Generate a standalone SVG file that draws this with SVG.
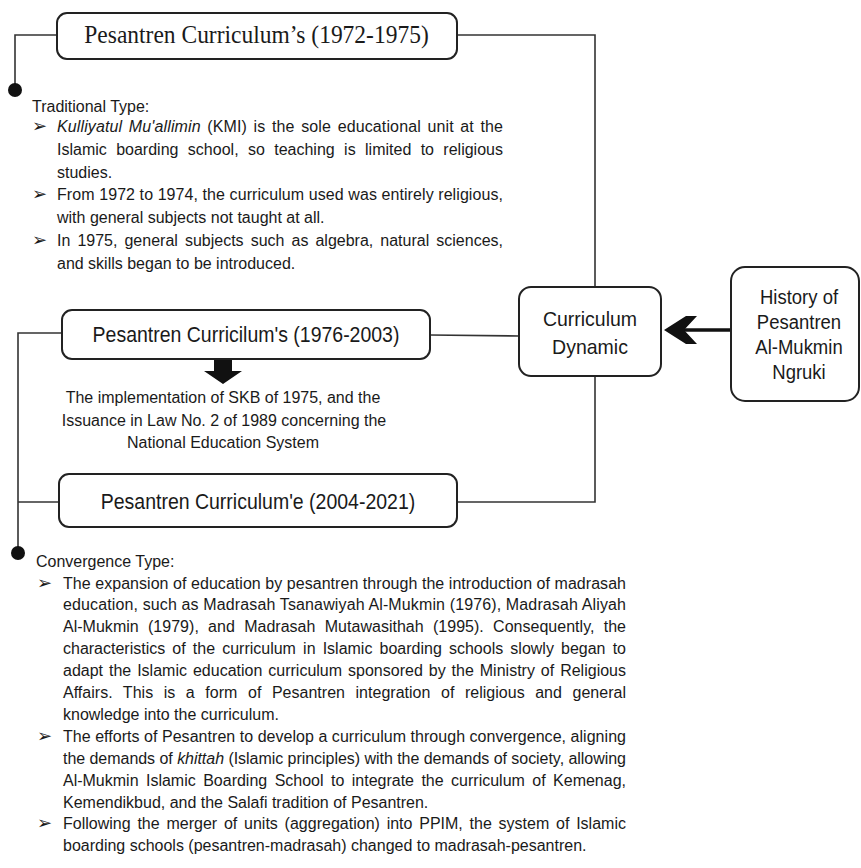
<svg xmlns="http://www.w3.org/2000/svg" width="861" height="868" viewBox="0 0 861 868">
<style>
  .box { fill: #ffffff; stroke: #222; stroke-width: 2; }
  .ln { fill: none; stroke: #333; stroke-width: 1.6; }
  .serif { font-family: "Liberation Serif", "Times New Roman", serif; fill: #1a1a1a; }
  .sans { font-family: "Liberation Sans", Arial, sans-serif; fill: #1a1a1a; }
  .body { font-family: "Liberation Sans", Arial, sans-serif; font-size: 16px; fill: #1a1a1a; }
  .bul { font-family: "DejaVu Sans", sans-serif; font-size: 18px; fill: #1a1a1a; }
  .it { font-style: italic; }
  .c { text-anchor: middle; }
</style>
<rect width="861" height="868" fill="#ffffff"/>

<g id="connectors">
  <polyline class="ln" points="57,35 15,35 15,90"/>
  <circle cx="15" cy="90" r="7" fill="#111"/>
  <polyline class="ln" points="457,35 595,35 595,287"/>
  <line class="ln" x1="430" y1="335" x2="519" y2="336"/>
  <polyline class="ln" points="595,376 595,502 457,502"/>
  <polyline class="ln" points="62,333 18,333 18,553"/>
  <line class="ln" x1="18" y1="502" x2="59" y2="502"/>
  <circle cx="18" cy="553" r="7" fill="#111"/>
  <line x1="684" y1="330" x2="731" y2="330" stroke="#111" stroke-width="3.5"/>
  <polygon points="664,330 686,316 697,316 684,330 697,344 686,344" fill="#111"/>
  <polygon points="214,360 232,360 232,371 242,371 223,384 204,371 214,371" fill="#111"/>
</g>

<g id="box-1972">
  <rect class="box" x="57" y="13" width="400" height="46" rx="10"/>
  <text class="serif c" transform="translate(256.5 43) scale(1 1.07)" font-size="23.5">Pesantren Curriculum’s (1972-1975)</text>
</g>

<g id="traditional">
  <text class="body" transform="translate(32 112) scale(1 1.08)">Traditional Type:</text>
  <text class="bul" x="32" y="132">➢</text>
  <text class="body" transform="translate(57 132) scale(1 1.08)" word-spacing="2" textLength="446"><tspan class="it">Kulliyatul Mu'allimin</tspan> (KMI) is the sole educational unit at the</text>
  <text class="body" transform="translate(57 155) scale(1 1.08)" word-spacing="4.9" textLength="446">Islamic boarding school, so teaching is limited to religious</text>
  <text class="body" transform="translate(57 177.5) scale(1 1.08)">studies.</text>
  <text class="bul" x="32" y="200">➢</text>
  <text class="body" transform="translate(57 200) scale(1 1.08)" textLength="446">From 1972 to 1974, the curriculum used was entirely religious,</text>
  <text class="body" transform="translate(57 223) scale(1 1.08)">with general subjects not taught at all.</text>
  <text class="bul" x="32" y="246">➢</text>
  <text class="body" transform="translate(57 246) scale(1 1.08)" word-spacing="2.6" textLength="446">In 1975, general subjects such as algebra, natural sciences,</text>
  <text class="body" transform="translate(57 268.5) scale(1 1.08)">and skills began to be introduced.</text>
</g>

<g id="box-1976">
  <rect class="box" x="62" y="310" width="368" height="49" rx="10"/>
  <text class="sans c" transform="translate(246 342) scale(1 1.09)" font-size="19.5">Pesantren Curricilum's (1976-2003)</text>
</g>

<g id="skb-note">
  <text class="body c" transform="translate(223 403) scale(1 1.08)">The implementation of SKB of 1975, and the</text>
  <text class="body c" transform="translate(224 425.5) scale(1 1.08)">Issuance in Law No. 2 of 1989 concerning the</text>
  <text class="body c" transform="translate(223 448) scale(1 1.08)">National Education System</text>
</g>

<g id="box-2004">
  <rect class="box" x="59" y="474" width="398" height="53" rx="10"/>
  <text class="sans c" transform="translate(258 509) scale(1 1.09)" font-size="19.5">Pesantren Curriculum'e (2004-2021)</text>
</g>

<g id="curriculum-dynamic">
  <rect class="box" x="519" y="287" width="142" height="89" rx="12"/>
  <text class="sans c" transform="translate(590 326) scale(1 1.08)" font-size="19.5">Curriculum</text>
  <text class="sans c" transform="translate(590 354) scale(1 1.08)" font-size="19.5">Dynamic</text>
</g>

<g id="history">
  <rect class="box" x="731" y="267" width="128" height="134" rx="14"/>
  <text class="sans c" transform="translate(799 304) scale(1 1.08)" font-size="18.5">History of</text>
  <text class="sans c" transform="translate(799 329) scale(1 1.08)" font-size="18.5">Pesantren</text>
  <text class="sans c" transform="translate(799 354) scale(1 1.08)" font-size="18.5">Al-Mukmin</text>
  <text class="sans c" transform="translate(799 379) scale(1 1.08)" font-size="18.5">Ngruki</text>
</g>

<g id="convergence">
  <text class="body" transform="translate(36 567) scale(1 1.08)">Convergence Type:</text>
  <text class="bul" x="37" y="588.5">➢</text>
  <text class="body" transform="translate(63 588.5) scale(1 1.08)" textLength="563">The expansion of education by pesantren through the introduction of madrasah</text>
  <text class="body" transform="translate(63 610.4) scale(1 1.08)" textLength="563">education, such as Madrasah Tsanawiyah Al-Mukmin (1976), Madrasah Aliyah</text>
  <text class="body" transform="translate(63 632.3) scale(1 1.08)" word-spacing="4.8" textLength="563">Al-Mukmin (1979), and Madrasah Mutawasithah (1995). Consequently, the</text>
  <text class="body" transform="translate(63 654.2) scale(1 1.08)" word-spacing="2.7" textLength="563">characteristics of the curriculum in Islamic boarding schools slowly began to</text>
  <text class="body" transform="translate(63 676.1) scale(1 1.08)" word-spacing="1.5" textLength="563">adapt the Islamic education curriculum sponsored by the Ministry of Religious</text>
  <text class="body" transform="translate(63 698) scale(1 1.08)" word-spacing="6.1" textLength="563">Affairs. This is a form of Pesantren integration of religious and general</text>
  <text class="body" transform="translate(63 719.9) scale(1 1.08)">knowledge into the curriculum.</text>
  <text class="bul" x="37" y="741.8">➢</text>
  <text class="body" transform="translate(63 741.8) scale(1 1.08)" textLength="563">The efforts of Pesantren to develop a curriculum through convergence, aligning</text>
  <text class="body" transform="translate(63 763.7) scale(1 1.08)" textLength="563">the demands of <tspan class="it">khittah</tspan> (Islamic principles) with the demands of society, allowing</text>
  <text class="body" transform="translate(63 785.6) scale(1 1.08)" word-spacing="3" textLength="563">Al-Mukmin Islamic Boarding School to integrate the curriculum of Kemenag,</text>
  <text class="body" transform="translate(63 807.5) scale(1 1.08)">Kemendikbud, and the Salafi tradition of Pesantren.</text>
  <text class="bul" x="37" y="829.4">➢</text>
  <text class="body" transform="translate(63 829.4) scale(1 1.08)" word-spacing="2.3" textLength="563">Following the merger of units (aggregation) into PPIM, the system of Islamic</text>
  <text class="body" transform="translate(63 851.3) scale(1 1.08)">boarding schools (pesantren-madrasah) changed to madrasah-pesantren.</text>
</g>
</svg>
